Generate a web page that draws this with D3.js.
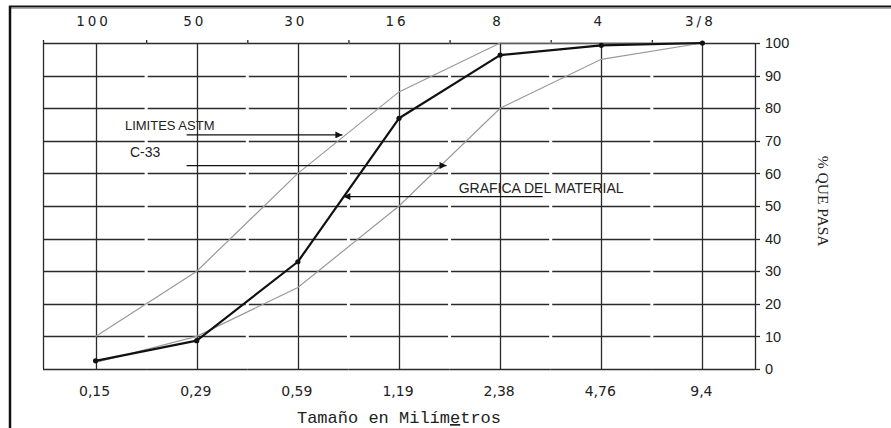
<!DOCTYPE html>
<html>
<head>
<meta charset="utf-8">
<script src="https://cdn.jsdelivr.net/npm/d3@7"></script>
<style>
  body { margin: 0; background: #fff; }
  svg { display: block; }
</style>
</head>
<body>
<div id="chart"></div>
<script>
// sieve sizes (mm) on the bottom, sieve numbers on top
const sizes = ["0,15", "0,29", "0,59", "1,19", "2,38", "4,76", "9,4"];
const sieves = ["100", "50", "30", "16", "8", "4", "3/8"];
const material = [2.5, 8.7, 32.9, 76.9, 96.3, 99.3, 100];
const upperLimit = [10, 30, 60, 85, 100, 100, 100];
const lowerLimit = [2, 10, 25, 50, 80, 95, 100];
const yTicks = [0, 10, 20, 30, 40, 50, 60, 70, 80, 90, 100];

const W = 891, H = 428;
const plot = {left: 43, right: 755, top: 43, bottom: 369};

const svg = d3.select("#chart").append("svg")
  .attr("width", W).attr("height", H);

const x = d3.scalePoint()
  .domain(sizes)
  .range([plot.left, plot.right])
  .padding(0.52);
const step = x.step();
// position at a fractional category index (for annotations)
const xi = i => x(sizes[0]) + i * step;

const y = d3.scaleLinear()
  .domain([0, 100])
  .range([plot.bottom, plot.top]);

// outer frame (top + left)
svg.append("line").attr("x1", 9).attr("x2", W).attr("y1", 8.5).attr("y2", 8.5)
  .attr("stroke", "#aaa").attr("stroke-width", 1);
svg.append("line").attr("x1", 9).attr("x2", W).attr("y1", 6.5).attr("y2", 6.5)
  .attr("stroke", "#111").attr("stroke-width", 2);
svg.append("line").attr("x1", 10).attr("x2", 10).attr("y1", 6).attr("y2", H)
  .attr("stroke", "#111").attr("stroke-width", 2.5);

const grid = svg.append("g").attr("stroke", "#2a2a2a").attr("stroke-width", 1.3);

// horizontal gridlines, broken at the mid points between sieves
const mids = sizes.slice(0, -1).map((s, i) => x(s) + step / 2);
const edges = [plot.left].concat(mids).concat([plot.right]);
yTicks.forEach(t => {
  const inner = t > 0 && t < 100;
  for (let i = 0; i < edges.length - 1; i++) {
    const a = edges[i] + (inner && i > 0 ? 1.5 : 0);
    const b = edges[i + 1] - (inner && i < edges.length - 2 ? 1.5 : 0);
    grid.append("line")
      .attr("x1", a).attr("x2", b)
      .attr("y1", Math.round(y(t)) + 0.5).attr("y2", Math.round(y(t)) + 0.5);
  }
});

// vertical gridlines + plot borders
sizes.forEach(s => {
  grid.append("line")
    .attr("x1", Math.round(x(s)) + 0.5).attr("x2", Math.round(x(s)) + 0.5)
    .attr("y1", y(100)).attr("y2", y(0));
});
[plot.left, plot.right].forEach(px => {
  grid.append("line").attr("x1", px + 0.5).attr("x2", px + 0.5)
    .attr("y1", y(100)).attr("y2", y(0));
});

// top minor ticks
edges.slice(0, -1).forEach(px => {
  grid.append("line").attr("x1", px + 0.5).attr("x2", px + 0.5)
    .attr("y1", y(100) - 3).attr("y2", y(100));
});

// right axis ticks and labels
const yAxis = svg.append("g");
yTicks.forEach(t => {
  yAxis.append("line")
    .attr("x1", plot.right).attr("x2", plot.right + 5)
    .attr("y1", Math.round(y(t)) + 0.5).attr("y2", Math.round(y(t)) + 0.5)
    .attr("stroke", "#2a2a2a").attr("stroke-width", 1.3);
  yAxis.append("text")
    .attr("x", plot.right + 10)
    .attr("y", y(t))
    .attr("dy", "0.36em")
    .style("font-family", "'Liberation Sans', Arial, sans-serif")
    .style("font-size", "14.5px")
    .attr("fill", "#222")
    .text(t);
});

// top labels (sieve numbers)
svg.append("g").selectAll("text")
  .data(sieves)
  .join("text")
  .attr("x", (d, i) => x(sizes[i]) - 2)
  .attr("y", 26)
  .attr("text-anchor", "middle")
  .style("font-family", "'DejaVu Sans', Verdana, sans-serif")
  .style("font-size", "13.5px")
  .style("letter-spacing", "3px")
  .attr("fill", "#222")
  .text(d => d);

// bottom labels (mm)
svg.append("g").selectAll("text")
  .data(sizes)
  .join("text")
  .attr("x", d => x(d) - 1)
  .attr("y", 396)
  .attr("text-anchor", "middle")
  .style("font-family", "'DejaVu Sans', Verdana, sans-serif")
  .style("font-size", "14px")
  .attr("fill", "#222")
  .text(d => d);

// limit curves
const line = d3.line()
  .x((d, i) => x(sizes[i]))
  .y(d => y(d));

[upperLimit, lowerLimit].forEach(arr => {
  svg.append("path")
    .datum(arr)
    .attr("d", line)
    .attr("fill", "none")
    .attr("stroke", "#9a9a9a")
    .attr("stroke-width", 1.2);
});

// material curve
svg.append("path")
  .datum(material)
  .attr("d", line)
  .attr("fill", "none")
  .attr("stroke", "#111")
  .attr("stroke-width", 2.2)
  .attr("stroke-linejoin", "round");

svg.append("g").selectAll("circle")
  .data(material)
  .join("circle")
  .attr("cx", (d, i) => x(sizes[i]))
  .attr("cy", d => y(d))
  .attr("r", 2.6)
  .attr("fill", "#111");

// arrowhead
svg.append("defs").append("marker")
  .attr("id", "arrow")
  .attr("viewBox", "0 0 10 10")
  .attr("refX", 10).attr("refY", 5)
  .attr("markerWidth", 9).attr("markerHeight", 7)
  .attr("markerUnits", "userSpaceOnUse")
  .attr("orient", "auto")
  .append("path")
  .attr("d", "M0,0 L10,5 L0,10 z")
  .attr("fill", "#111");

// annotations: [from index, to index, value]
const arrows = [
  [0.90, 2.44, 71.8],
  [0.90, 3.47, 62.4],
  [4.42, 2.45, 52.9]
];
svg.append("g").selectAll("line")
  .data(arrows)
  .join("line")
  .attr("x1", d => xi(d[0])).attr("x2", d => xi(d[1]))
  .attr("y1", d => y(d[2])).attr("y2", d => y(d[2]))
  .attr("stroke", "#111").attr("stroke-width", 1.3)
  .attr("marker-end", "url(#arrow)");

const notes = [
  ["LIMITES ASTM", 0.29, 73.2, 13],
  ["C-33", 0.34, 65.1, 14],
  ["GRAFICA DEL MATERIAL", 3.59, 53.9, 14]
];
svg.append("g").selectAll("text")
  .data(notes)
  .join("text")
  .attr("x", d => xi(d[1]))
  .attr("y", d => y(d[2]))
  .style("font-family", "'Liberation Sans', Arial, sans-serif")
  .style("font-size", d => d[3] + "px")
  .attr("fill", "#222")
  .text(d => d[0]);

// axis titles
svg.append("text")
  .attr("transform", "translate(818," + y(51.5) + ") rotate(90)")
  .attr("text-anchor", "middle")
  .style("font-family", "'Liberation Serif', 'Times New Roman', serif")
  .style("font-size", "15.5px")
  .attr("fill", "#222")
  .text("% QUE PASA");

const xt = svg.append("text")
  .attr("x", (plot.left + plot.right) / 2)
  .attr("y", 423)
  .attr("text-anchor", "middle")
  .style("font-family", "'Liberation Mono', 'Courier New', monospace")
  .style("font-size", "17px")
  .attr("fill", "#222");
xt.append("tspan").text("Tamaño en Milím");
xt.append("tspan").style("text-decoration", "underline").text("e");
xt.append("tspan").text("tros");
</script>
</body>
</html>
